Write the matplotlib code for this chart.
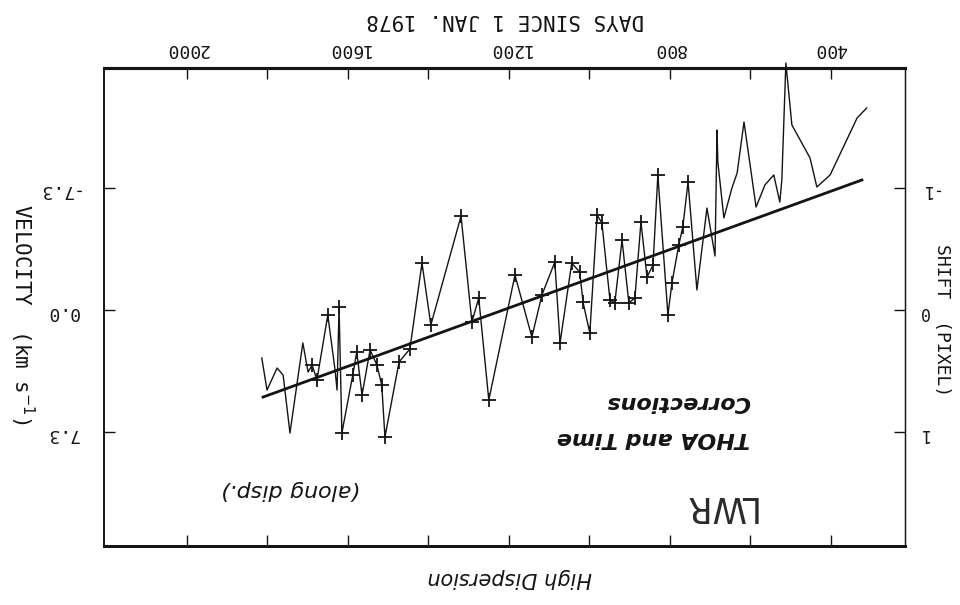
import numpy as np
import matplotlib
matplotlib.use("Agg")
import matplotlib.pyplot as plt
from matplotlib.ticker import FixedLocator, NullFormatter

# wavelength-calibration drift, LWR high dispersion (days since 1 Jan 1978)
days = [1814, 1801, 1776, 1761, 1744, 1712, 1699, 1689, 1677, 1650,
        1632, 1627, 1622, 1615, 1588, 1578, 1565, 1545, 1528, 1516,
        1508, 1473, 1446, 1416, 1394, 1319, 1292, 1275, 1250, 1185,
        1143, 1118, 1086, 1073, 1044, 1024, 1016, 999, 981, 969,
        949, 937, 919, 902, 887, 872, 857, 842, 830, 805,
        795, 778, 768, 755, 733, 708, 688, 683, 681, 666,
        646, 633, 616, 586, 564, 542, 527, 522, 512, 497,
        452, 435, 402, 335, 311]
velocity = [2.87, 4.79, 3.47, 3.89, 7.36, 1.97, 3.71, 3.29, 4.19, 0.30,
            3.59, 4.79, -0.18, 7.36, 3.89, 2.51, 5.09, 2.39, 3.29, 4.49,
            7.60, 3.11, 2.33, -2.81, 0.90, -5.62, 0.72, -0.72, 5.39, -2.09,
            1.62, -0.90, -2.87, 1.97, -2.81, -2.27, -0.48, 1.38, -5.68, -5.21,
            -0.60, -0.42, -4.19, -0.42, -0.72, -5.27, -1.97, -2.69, -8.08, 0.30,
            -1.62, -3.89, -4.97, -7.66, -1.20, -6.10, -3.23, -10.77, -8.86, -5.51,
            -7.30, -8.20, -11.25, -6.16, -7.48, -8.08, -6.46, -7.78, -14.78, -11.07,
            -9.10, -7.36, -8.08, -11.49, -12.09]
# 1 = measured point drawn with a cross
marked = [0] * 7 + [1, 1, 1, 0, 0] + [1] * 42 + [0] * 21

# linear trend
fit_days = [1811, 323]
fit_slope = 0.00873
fit_intercept = -10.60

day_ticks = [400, 800, 1200, 1600, 2000]
day_minor = [600, 1000, 1400, 1800]
vel_ticks = [-7.3, 0.0, 7.3]
vel_labels = ["-7.3", "0.0", "7.3"]
pix_ticks = [-1, 0, 1]
pix_labels = ["-1", "0", "1"]

ink = "#141414"
mono = "DejaVu Sans Mono"

fig = plt.figure(figsize=(9.6, 6.05), dpi=100)
ax = fig.add_axes([104 / 960, 1 - 546 / 605, 801 / 960, 478 / 605])

d = np.array(days)
v = np.array(velocity)
m = np.array(marked, dtype=bool)

ax.plot(d, v, color=ink, lw=1.0, clip_on=False, zorder=3)
ax.plot(d[m], v[m], ls="none", marker="+", ms=10, mew=1.3, color=ink, zorder=4)

fd = np.array(fit_days)
ax.plot(fd, fit_slope * fd + fit_intercept, color=ink, lw=2.0, zorder=3)

# the sheet is upside down: days run right-to-left, velocity top-to-bottom
ax.set_xlim(2206, 216)
ax.set_ylim(14.12, -14.48)

ax.xaxis.set_major_locator(FixedLocator(day_ticks))
ax.xaxis.set_minor_locator(FixedLocator(day_minor))
ax.xaxis.set_minor_formatter(NullFormatter())
ax.tick_params(axis="x", which="both", direction="in", top=True, bottom=True,
               labeltop=True, labelbottom=False, length=8, width=1.0,
               color=ink, pad=7)
ax.tick_params(axis="x", which="major", labelsize=13, labelcolor=ink,
               labelrotation=180)
for lab in ax.get_xticklabels():
    lab.set_family(mono)

ax.set_yticks(vel_ticks)
ax.set_yticklabels(vel_labels, family=mono, rotation=180)
ax.tick_params(axis="y", direction="in", left=True, right=False, length=8,
               width=1.0, color=ink, labelsize=13, labelcolor=ink, pad=18)

ax2 = ax.twinx()
ax2.set_ylim(14.12 / 7.3, -14.48 / 7.3)
ax2.set_yticks(pix_ticks)
ax2.set_yticklabels(pix_labels, family=mono, rotation=180)
ax2.tick_params(axis="y", direction="in", length=8, width=1.0, color=ink,
                labelsize=12, labelcolor=ink, pad=10)

for a in (ax, ax2):
    a.spines["top"].set_linewidth(2.2)
    a.spines["bottom"].set_linewidth(2.0)
    a.spines["left"].set_linewidth(1.2)
    a.spines["right"].set_linewidth(0.9)
    for s in a.spines.values():
        s.set_color(ink)

# axis titles
fig.text(505 / 960, 1 - 20 / 605, "DAYS SINCE 1 JAN. 1978", family=mono,
         fontsize=15, color=ink, rotation=180, ha="center", va="center")
fig.text(22 / 960, 1 - 315 / 605, "VELOCITY  (km s$^{-1}$)", family=mono,
         fontsize=15, color=ink, rotation=270, ha="center", va="center")
fig.text(942 / 960, 1 - 320 / 605, "SHIFT  (PIXEL)", family=mono,
         fontsize=13, color=ink, rotation=270, ha="center", va="center")
fig.text(510 / 960, 1 - 578 / 605, "High Dispersion", style="italic",
         fontsize=15, color=ink, rotation=180, ha="center", va="center")

# notes inside the frame
def px(x, y):
    return ((x - 104) / 801, (546 - y) / 478)

ax.text(*px(718, 506), "LWR", transform=ax.transAxes,
        family="Liberation Sans Narrow", fontsize=25, color="#2a2a2a",
        rotation=180, ha="center", va="center")
ax.text(*px(290, 490), "(along disp.)", transform=ax.transAxes,
        style="italic", fontsize=16, color=ink, rotation=180,
        ha="center", va="center")
ax.text(*px(750, 438), "THOA and Time", transform=ax.transAxes,
        style="italic", weight="bold", fontsize=16, color=ink,
        rotation=180, ha="right", va="center")
ax.text(*px(750, 402), "Corrections", transform=ax.transAxes,
        style="italic", weight="bold", fontsize=16, color=ink,
        rotation=180, ha="right", va="center")

fig.savefig("out.png", dpi=100, facecolor="white")
